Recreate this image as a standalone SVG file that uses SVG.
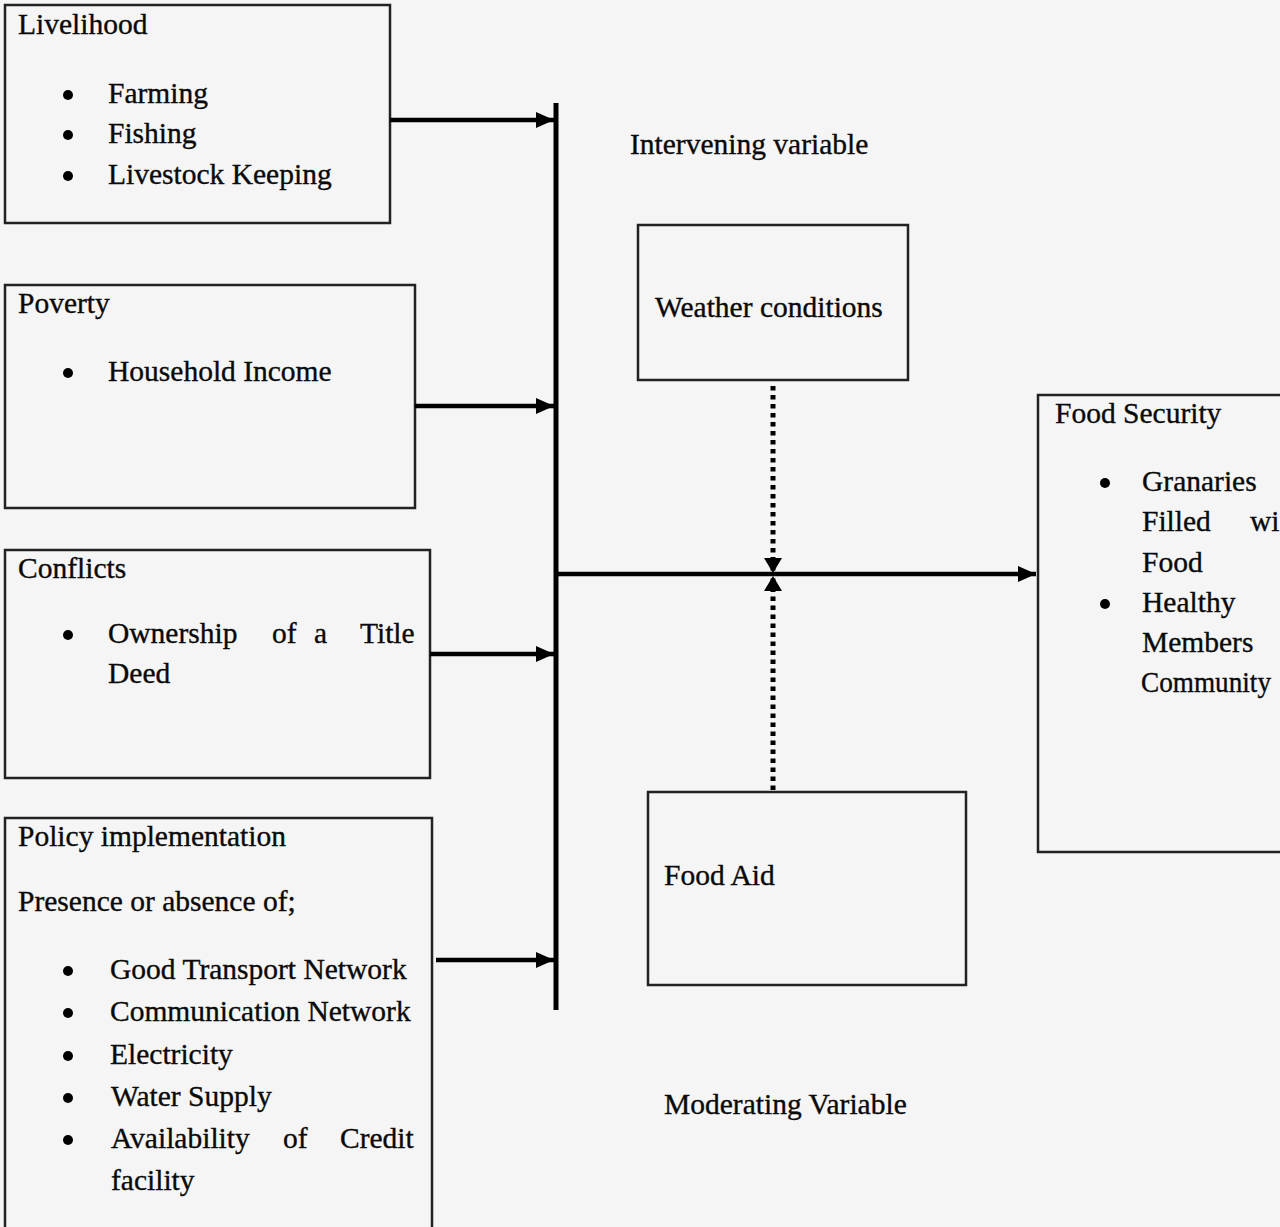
<svg xmlns="http://www.w3.org/2000/svg" width="1280" height="1227" viewBox="0 0 1280 1227">
<style>
  .box { fill: none; stroke: #222; stroke-width: 2.5; }
  .t { font-family: "Liberation Serif", "Times New Roman", serif; font-size: 29.5px; fill: #0a0a0a; stroke: #0a0a0a; stroke-width: 0.35; }
  .conn { stroke: #000; stroke-width: 4.5; fill: none; }
  .bus { stroke: #000; stroke-width: 5; fill: none; }
  .dot { stroke: #000; stroke-width: 5; stroke-dasharray: 4.5 4.5; fill: none; }
  .bul { fill: #000; }
</style>
<defs>
  <marker id="ah" viewBox="0 0 18 16" refX="18" refY="8" markerWidth="18" markerHeight="16" markerUnits="userSpaceOnUse" orient="auto">
    <path d="M0,0 L18,8 L0,16 Z" fill="#000"/>
  </marker>
  <marker id="ahs" viewBox="0 0 15 18" refX="15" refY="9" markerWidth="15" markerHeight="18" markerUnits="userSpaceOnUse" orient="auto">
    <path d="M0,0 L15,9 L0,18 Z" fill="#000"/>
  </marker>
</defs>
<rect x="0" y="0" width="1280" height="1227" fill="#f5f5f5"/>

<g id="livelihood">
  <rect class="box" x="5" y="5" width="385" height="218"/>
  <text class="t" x="18" y="34">Livelihood</text>
  <circle class="bul" cx="68" cy="95" r="5"/>
  <text class="t" x="108" y="103">Farming</text>
  <circle class="bul" cx="68" cy="135" r="5"/>
  <text class="t" x="108" y="143">Fishing</text>
  <circle class="bul" cx="68" cy="176" r="5"/>
  <text class="t" x="108" y="184">Livestock Keeping</text>
</g>

<g id="poverty">
  <rect class="box" x="5" y="285" width="410" height="223"/>
  <text class="t" x="18" y="313">Poverty</text>
  <circle class="bul" cx="68" cy="373" r="5"/>
  <text class="t" x="108" y="381">Household Income</text>
</g>

<g id="conflicts">
  <rect class="box" x="5" y="550" width="425" height="228"/>
  <text class="t" x="18" y="578">Conflicts</text>
  <circle class="bul" cx="68" cy="635" r="5"/>
  <text class="t" x="108" y="643">Ownership</text>
  <text class="t" x="272" y="643">of</text>
  <text class="t" x="314" y="643">a</text>
  <text class="t" x="360" y="643">Title</text>
  <text class="t" x="108" y="683">Deed</text>
</g>

<g id="policy">
  <rect class="box" x="5" y="818" width="427" height="420"/>
  <text class="t" x="18" y="846">Policy implementation</text>
  <text class="t" x="18" y="911">Presence or absence of;</text>
  <circle class="bul" cx="68" cy="971" r="5"/>
  <text class="t" x="110" y="979">Good Transport Network</text>
  <circle class="bul" cx="68" cy="1013" r="5"/>
  <text class="t" x="110" y="1021">Communication Network</text>
  <circle class="bul" cx="68" cy="1056" r="5"/>
  <text class="t" x="110" y="1064">Electricity</text>
  <circle class="bul" cx="68" cy="1098" r="5"/>
  <text class="t" x="111" y="1106">Water Supply</text>
  <circle class="bul" cx="68" cy="1140" r="5"/>
  <text class="t" x="111" y="1148">Availability</text>
  <text class="t" x="283" y="1148">of</text>
  <text class="t" x="340" y="1148">Credit</text>
  <text class="t" x="111" y="1190">facility</text>
</g>

<g id="intervening-label">
  <text class="t" x="630" y="154">Intervening variable</text>
</g>

<g id="weather">
  <rect class="box" x="638" y="225" width="270" height="155"/>
  <text class="t" x="655" y="317">Weather conditions</text>
</g>

<g id="food-aid">
  <rect class="box" x="648" y="792" width="318" height="193"/>
  <text class="t" x="664" y="885">Food Aid</text>
</g>

<g id="moderating-label">
  <text class="t" x="664" y="1114">Moderating Variable</text>
</g>

<g id="food-security">
  <rect class="box" x="1038" y="395" width="260" height="457"/>
  <text class="t" x="1055" y="423">Food Security</text>
  <circle class="bul" cx="1105" cy="483" r="5"/>
  <text class="t" x="1142" y="491">Granaries</text>
  <text class="t" x="1142" y="531">Filled</text>
  <text class="t" x="1250" y="531">wi</text>
  <text class="t" x="1142" y="572">Food</text>
  <circle class="bul" cx="1105" cy="604" r="5"/>
  <text class="t" x="1142" y="612">Healthy</text>
  <text class="t" x="1142" y="652">Members</text>
  <text class="t" x="1141" y="692" textLength="130" lengthAdjust="spacingAndGlyphs">Community</text>
</g>

<g id="connectors">
  <line class="bus" x1="556" y1="103" x2="556" y2="1010"/>
  <line class="conn" x1="390" y1="120" x2="554" y2="120" marker-end="url(#ah)"/>
  <line class="conn" x1="415" y1="406" x2="554" y2="406" marker-end="url(#ah)"/>
  <line class="conn" x1="430" y1="654" x2="554" y2="654" marker-end="url(#ah)"/>
  <line class="conn" x1="436" y1="960" x2="554" y2="960" marker-end="url(#ah)"/>
  <line class="conn" x1="556" y1="574" x2="1036" y2="574" marker-end="url(#ah)"/>
  <line class="dot" x1="773" y1="386" x2="773" y2="573" marker-end="url(#ahs)"/>
  <line class="dot" x1="773" y1="790" x2="773" y2="576" marker-end="url(#ahs)"/>
</g>
</svg>
